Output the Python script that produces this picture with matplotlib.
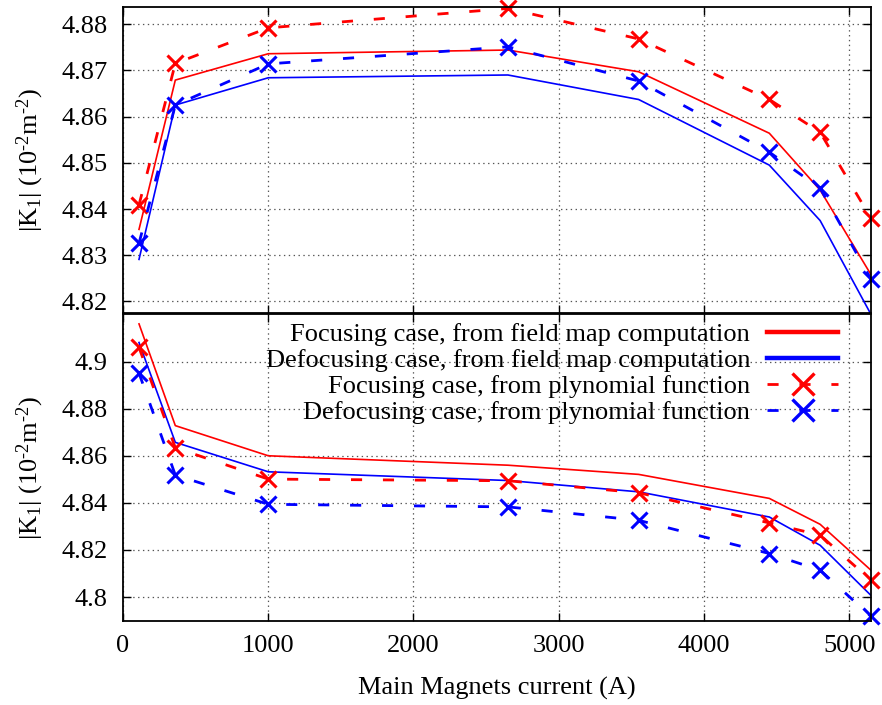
import matplotlib
matplotlib.use('Agg')
import matplotlib.pyplot as plt
from matplotlib.lines import Line2D
from matplotlib.ticker import FuncFormatter

# main magnets current (A)
current = [110, 360, 1000, 2650, 3550, 4450, 4800, 5150]

# upper panel, |K1| (10^-2 m^-2)
top_foc_map = [4.8356, 4.8679, 4.8736, 4.8744, 4.8697, 4.8564, 4.8441, 4.8258]
top_defoc_map = [4.8291, 4.8625, 4.8684, 4.8690, 4.8637, 4.8495, 4.8375, 4.8172]
top_foc_poly = [4.8409, 4.8715, 4.8792, 4.8834, 4.8768, 4.8637, 4.8566, 4.8380]
top_defoc_poly = [4.8326, 4.8625, 4.8714, 4.8751, 4.8677, 4.8523, 4.8445, 4.8248]

# lower panel
bot_foc_map = [4.9160, 4.8728, 4.8600, 4.8560, 4.8521, 4.8419, 4.8309, 4.8114]
bot_defoc_map = [4.9081, 4.8657, 4.8532, 4.8495, 4.8447, 4.8340, 4.8220, 4.8007]
bot_foc_poly = [4.9060, 4.8634, 4.8501, 4.8494, 4.8443, 4.8315, 4.8263, 4.8071]
bot_defoc_poly = [4.8951, 4.8518, 4.8394, 4.8383, 4.8326, 4.8185, 4.8114, 4.7918]

labels = ['Focusing case, from field map computation',
          'Defocusing case, from field map computation',
          'Focusing case, from plynomial function',
          'Defocusing case, from plynomial function']

top_yticks = [4.82, 4.83, 4.84, 4.85, 4.86, 4.87, 4.88]
bot_yticks = [4.80, 4.82, 4.84, 4.86, 4.88, 4.90]
xticks = [0, 1000, 2000, 3000, 4000, 5000]

plt.rcParams['font.family'] = ['Liberation Serif', 'DejaVu Serif']
plt.rcParams['mathtext.fontset'] = 'custom'
plt.rcParams['mathtext.rm'] = 'Liberation Serif'
plt.rcParams['mathtext.it'] = 'Liberation Serif:italic'
plt.rcParams['lines.scale_dashes'] = False
fs = 19

fig = plt.figure(figsize=(8.82, 7.05), dpi=100)
ax1 = fig.add_axes([0.1395, 0.556, 0.848, 0.434])
ax2 = fig.add_axes([0.1395, 0.119, 0.848, 0.4356])

dash = (0, (8, 15))
ylab = r'|K$_1$| (10$^{\text{-}2}$m$^{\text{-}2}$)'


def draw(ax, fm, dm, fp, dp):
    ax.plot(current, fm, color='#ff0000', lw=1.2)
    ax.plot(current, dm, color='#0000ff', lw=1.2)
    ax.plot(current, fp, color='#ff0000', lw=2.0, linestyle=dash,
            marker='x', ms=11, mew=2.2, clip_on=False)
    ax.plot(current, dp, color='#0000ff', lw=2.0, linestyle=dash,
            marker='x', ms=11, mew=2.2, clip_on=False)
    ax.set_xlim(0, 5150)
    ax.set_xticks(xticks)
    ax.grid(True, linestyle=(0, (1, 2.5)), color='#555555', lw=0.9)
    ax.tick_params(direction='in', length=6, width=1, top=True, right=True,
                   labelsize=fs)
    ax.tick_params(axis='y', pad=11)
    ax.tick_params(axis='x', pad=10)
    ax.yaxis.set_major_formatter(FuncFormatter(lambda v, p: '%g' % round(v, 3)))
    ax.set_ylabel(ylab, fontsize=fs)
    ax.yaxis.set_label_coords(-0.103, 0.5)
    for s in ax.spines.values():
        s.set_linewidth(1.3)


draw(ax1, top_foc_map, top_defoc_map, top_foc_poly, top_defoc_poly)
ax1.set_ylim(4.8175, 4.8837)
ax1.set_yticks(top_yticks)
ax1.tick_params(labelbottom=False)

draw(ax2, bot_foc_map, bot_defoc_map, bot_foc_poly, bot_defoc_poly)
ax2.set_ylim(4.7898, 4.9202)
ax2.set_yticks(bot_yticks)
ax2.set_xlabel('Main Magnets current (A)', fontsize=fs, labelpad=14)

handles = [Line2D([], [], color='#ff0000', lw=3.2),
           Line2D([], [], color='#0000ff', lw=3.2),
           Line2D([], [], color='#ff0000', lw=2.0, linestyle=dash,
                  marker='x', ms=16, mew=2.4),
           Line2D([], [], color='#0000ff', lw=2.0, linestyle=dash,
                  marker='x', ms=16, mew=2.4)]
ax2.legend(handles, labels, loc='upper right', bbox_to_anchor=(0.956, 0.972),
           frameon=False, markerfirst=False, fontsize=fs, handlelength=2.69,
           handletextpad=0.64, borderpad=0, borderaxespad=0, labelspacing=0.1,
           numpoints=1)

fig.savefig('out.png', dpi=100)
